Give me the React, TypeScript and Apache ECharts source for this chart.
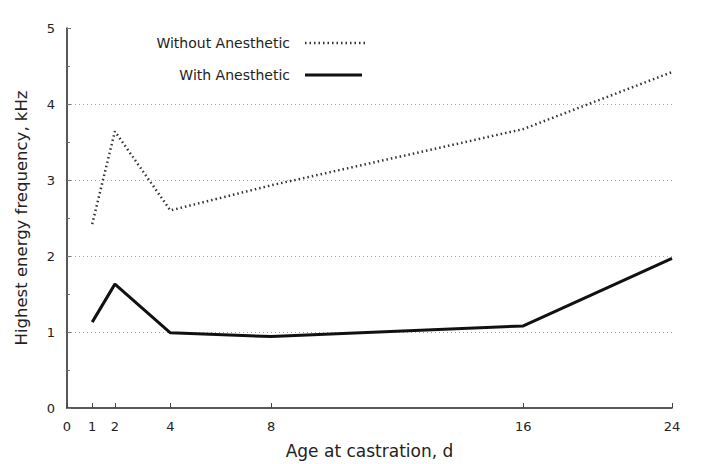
import React, { useEffect, useRef } from "react";
import * as echarts from "echarts";

// Tick days and where the original (unevenly spaced) axis draws them
const tickDays = [0, 1, 2, 4, 8, 16, 24];
const tickPos = [0, 1, 1.9, 4.1, 8.1, 18.1, 24];

const seriesDays = [1, 2, 4, 8, 16, 24];
const withoutAnesthetic = [2.42, 3.64, 2.6, 2.93, 3.67, 4.42];
const withAnesthetic = [1.13, 1.63, 0.99, 0.94, 1.08, 1.97];

const yTicks = [0, 1, 2, 3, 4, 5];

const FONT = "'DejaVu Sans', 'Liberation Sans', Arial, sans-serif";

function toData(vals: number[]) {
  return seriesDays.map((d, i) => [tickPos[tickDays.indexOf(d)], vals[i]]);
}

export default function App() {
  const ref = useRef<HTMLDivElement>(null);
  useEffect(() => {
    document.body.style.margin = "0";
    const chart = echarts.init(ref.current!, null, { renderer: "svg" });
    chart.setOption({
      animation: false,
      backgroundColor: "#fff",
      textStyle: { fontFamily: FONT },
      grid: { left: 67, right: 45, top: 28, bottom: 56, containLabel: false },
      xAxis: {
        type: "value",
        min: 0,
        max: 24,
        name: "Age at castration, d",
        nameLocation: "middle",
        nameGap: 34,
        nameTextStyle: { fontSize: 17, color: "#222", fontFamily: FONT },
        axisLine: { show: true, lineStyle: { color: "#222", width: 1.5 } },
        axisTick: {
          show: true,
          inside: true,
          length: 5,
          customValues: tickPos,
          lineStyle: { color: "#444" },
        },
        axisLabel: {
          customValues: tickPos,
          margin: 12,
          fontSize: 13,
          color: "#222",
          fontFamily: FONT,
          formatter: (v: number) => {
            const i = tickPos.findIndex((p) => Math.abs(p - v) < 1e-6);
            return i >= 0 ? String(tickDays[i]) : "";
          },
        },
        splitLine: { show: false },
      },
      yAxis: {
        type: "value",
        min: 0,
        max: 5,
        interval: 1,
        name: "Highest energy frequency, kHz",
        nameLocation: "middle",
        nameGap: 37,
        nameTextStyle: { fontSize: 16.5, color: "#222", fontFamily: FONT },
        axisLine: { show: true, lineStyle: { color: "#222", width: 1.5 } },
        axisTick: { show: true, inside: true, length: 4, lineStyle: { color: "#777" } },
        minorTick: { show: true, splitNumber: 2, length: 3, lineStyle: { color: "#777" } },
        axisLabel: {
          margin: 12,
          fontSize: 13,
          color: "#222",
          fontFamily: FONT,
          formatter: (v: number) => (yTicks.includes(v) ? String(v) : ""),
        },
        splitLine: {
          show: true,
          showMinLine: false,
          showMaxLine: false,
          lineStyle: { color: "#aaa", type: [1, 3], width: 1 },
        },
      },
      graphic: [
        {
          type: "text",
          x: 290,
          y: 43,
          style: {
            text: "Without Anesthetic",
            align: "right",
            verticalAlign: "middle",
            font: `14px ${FONT}`,
            fill: "#222",
          },
        },
        {
          type: "line",
          shape: { x1: 305, y1: 43, x2: 365, y2: 43 },
          style: { stroke: "#333", lineWidth: 2.5, lineDash: [1.5, 3] },
        },
        {
          type: "text",
          x: 290,
          y: 75,
          style: {
            text: "With Anesthetic",
            align: "right",
            verticalAlign: "middle",
            font: `14px ${FONT}`,
            fill: "#222",
          },
        },
        {
          type: "line",
          shape: { x1: 305, y1: 75, x2: 362, y2: 75 },
          style: { stroke: "#111", lineWidth: 3 },
        },
      ],
      series: [
        {
          name: "Without Anesthetic",
          type: "line",
          data: toData(withoutAnesthetic),
          showSymbol: false,
          lineStyle: { color: "#333", width: 2.5, type: [1.5, 3] },
        },
        {
          name: "With Anesthetic",
          type: "line",
          data: toData(withAnesthetic),
          showSymbol: false,
          lineStyle: { color: "#111", width: 3 },
        },
      ],
    });
    return () => chart.dispose();
  }, []);
  return <div ref={ref} style={{ width: 717, height: 464 }} />;
}
